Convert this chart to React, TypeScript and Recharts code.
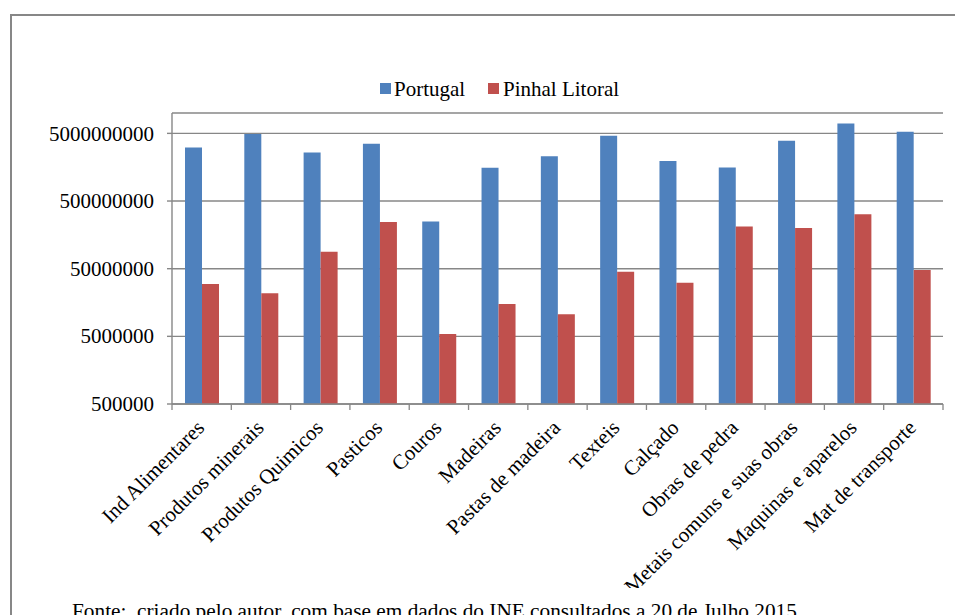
import { BarChart, Bar, XAxis, YAxis, CartesianGrid } from "recharts"

const categories = [
  "Ind Alimentares", "Produtos minerais", "Produtos Quimicos", "Pasticos", "Couros",
  "Madeiras", "Pastas de madeira", "Texteis", "Calçado", "Obras de pedra",
  "Metais comuns e suas obras", "Maquinas e aparelos", "Mat de transporte",
]
const portugal = [3.1e9, 4.9e9, 2.6e9, 3.5e9, 2.5e8, 1.55e9, 2.3e9, 4.6e9, 1.96e9, 1.57e9, 3.9e9, 7.0e9, 5.3e9]
const pinhal = [2.98e7, 2.17e7, 8.9e7, 2.45e8, 5.4e6, 1.5e7, 1.06e7, 4.5e7, 3.1e7, 2.1e8, 2.0e8, 3.2e8, 4.8e7]
const yTicks = [500000, 5000000, 50000000, 500000000, 5000000000]

const BLUE = "#4F81BD"
const RED = "#C0504D"
const GRID = "#878787"
const FONT = "'Liberation Serif', 'Times New Roman', serif"

const data = categories.map((name, i) => ({ name, portugal: portugal[i], pinhal: pinhal[i] }))

const PLOT_W = 943 - 172
const BAND = PLOT_W / categories.length

const CatTick = ({ x, y, payload, index }: any) => (
  <g>
    <line x1={x + BAND / 2} x2={x + BAND / 2} y1={y} y2={y + 6} stroke={GRID} strokeWidth={1.3} />
    {index === 0 && (
      <line x1={x - BAND / 2} x2={x - BAND / 2} y1={y} y2={y + 6} stroke={GRID} strokeWidth={1.3} />
    )}
    <text x={x + 4} y={y + 25} textAnchor="end" fontSize={21} fontFamily={FONT} fill="#000"
          transform={`rotate(-45, ${x + 4}, ${y + 25})`}>
      {payload.value}
    </text>
  </g>
)

const ValTick = ({ x, y, payload }: any) => (
  <text x={x} y={y} dy="0.34em" textAnchor="end" fontSize={21} fontFamily={FONT} fill="#000">
    {payload.value}
  </text>
)

export default function App() {
  return (
    <div style={{ position: "absolute", left: 0, top: 0, width: 955, height: 615, overflow: "hidden", background: "#fff" }}>
      <div style={{ position: "absolute", left: 10, top: 14, width: 1000, height: 700,
                    borderLeft: `2px solid ${GRID}`, borderTop: `2px solid ${GRID}` }} />
      <div style={{ position: "absolute", left: 0, top: 0 }}>
        <BarChart width={955} height={588} data={data} barGap={0}
                  margin={{ top: 113, right: 12, left: 0, bottom: 0 }}>
          <CartesianGrid vertical={false} stroke={GRID} strokeWidth={1.4} />
          <XAxis dataKey="name" interval={0} height={184} tickSize={0} tickMargin={0}
                 axisLine={{ stroke: GRID, strokeWidth: 1.4 }} tick={<CatTick />} />
          <YAxis scale="log" domain={[500000, 10000000000]} allowDataOverflow ticks={yTicks}
                 width={172} tickSize={5} tickMargin={13}
                 axisLine={{ stroke: GRID, strokeWidth: 1.4 }} tickLine={{ stroke: GRID, strokeWidth: 1.4 }}
                 tick={<ValTick />} />
          <Bar dataKey="portugal" name="Portugal" fill={BLUE} barSize={17} isAnimationActive={false} />
          <Bar dataKey="pinhal" name="Pinhal Litoral" fill={RED} barSize={17} isAnimationActive={false} />
        </BarChart>
      </div>
      {/* legend */}
      <div style={{ position: "absolute", left: 380, top: 77, height: 24, width: 260,
                    fontFamily: FONT, fontSize: 21, color: "#000" }}>
        <span style={{ position: "absolute", left: 0, top: 6, width: 11, height: 11, background: BLUE }} />
        <span style={{ position: "absolute", left: 14, top: 0, lineHeight: "24px", whiteSpace: "nowrap" }}>Portugal</span>
        <span style={{ position: "absolute", left: 108, top: 6, width: 11, height: 11, background: RED }} />
        <span style={{ position: "absolute", left: 123, top: 0, lineHeight: "24px", whiteSpace: "nowrap" }}>Pinhal Litoral</span>
      </div>
      <div style={{ position: "absolute", left: 72, top: 601, fontFamily: FONT, fontSize: 21.3, lineHeight: "21px",
                    whiteSpace: "pre", color: "#000" }}>
        Fonte:  criado pelo autor, com base em dados do INE consultados a 20 de Julho 2015
      </div>
    </div>
  )
}
